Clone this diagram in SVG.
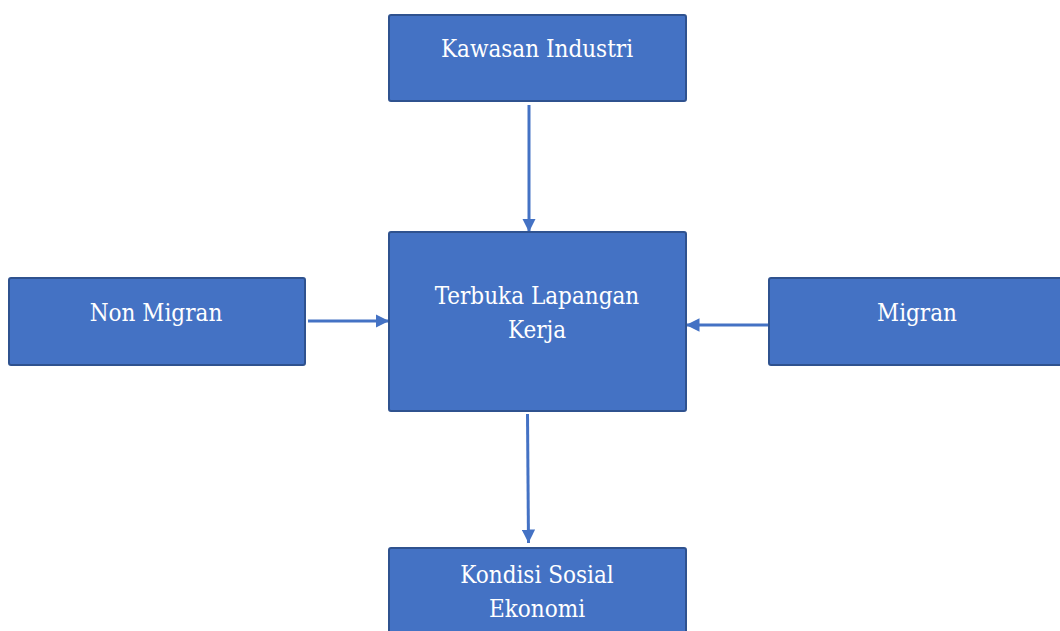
<svg xmlns="http://www.w3.org/2000/svg" width="1060" height="631" viewBox="0 0 1060 631">
<defs>
<style>
.box{fill:#4472C4;stroke:#2F528F;stroke-width:2}
.lbl{font-family:'DejaVu Serif Condensed','DejaVu Serif',serif;font-size:24px;fill:#FFFFFF;text-anchor:middle}
.conn{stroke:#4472C4;stroke-width:3;fill:none;marker-end:url(#ah)}
</style>
<marker id="ah" viewBox="0 0 10 10" refX="10" refY="5" markerWidth="4.5" markerHeight="4.5" orient="auto" markerUnits="strokeWidth">
<path d="M0,0 L10,5 L0,10 z" fill="#4472C4"/>
</marker>
</defs>
<rect width="1060" height="631" fill="#FFFFFF"/>
<g id="connectors">
<line class="conn" x1="529" y1="105" x2="529" y2="232"/>
<line class="conn" x1="308" y1="321" x2="389" y2="321"/>
<line class="conn" x1="769" y1="325" x2="686" y2="325"/>
<line class="conn" x1="527.5" y1="414" x2="528.5" y2="543"/>
</g>
<g id="kawasan">
<rect class="box" x="389" y="15" width="297" height="86" rx="2"/>
<text class="lbl" x="537" y="57">Kawasan Industri</text>
</g>
<g id="terbuka">
<rect class="box" x="389" y="232" width="297" height="179" rx="2"/>
<text class="lbl" x="537" y="304">Terbuka Lapangan</text>
<text class="lbl" x="537" y="338">Kerja</text>
</g>
<g id="nonmigran">
<rect class="box" x="9" y="278" width="296" height="87" rx="2"/>
<text class="lbl" x="156" y="321">Non Migran</text>
</g>
<g id="migran">
<rect class="box" x="769" y="278" width="295" height="87" rx="2"/>
<text class="lbl" x="917" y="321">Migran</text>
</g>
<g id="kondisi">
<rect class="box" x="389" y="548" width="297" height="90" rx="2"/>
<text class="lbl" x="537" y="583">Kondisi Sosial</text>
<text class="lbl" x="537" y="617">Ekonomi</text>
</g>
</svg>
